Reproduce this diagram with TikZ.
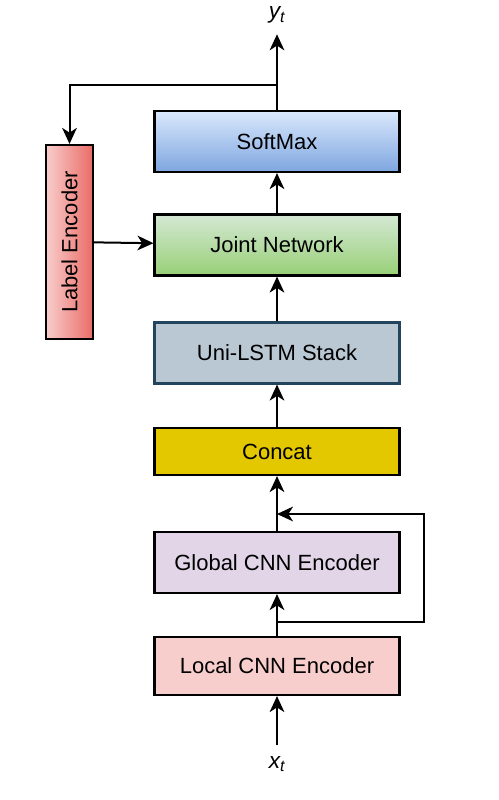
\documentclass[tikz,border=0pt]{standalone}
\usepackage{fontspec}
\setmainfont{Liberation Sans}
\usetikzlibrary{shapes.geometric, arrows.meta}
\tikzstyle{block} = [rectangle, draw=black, line width=1.6pt, minimum width=245*0.75pt, minimum height=61*0.75pt, text centered, font=\fontsize{16.5}{19}\selectfont]
\tikzstyle{softmax} = [block, top color={rgb,255:red,218;green,232;blue,252}, bottom color={rgb,255:red,126;green,166;blue,224}]
\tikzstyle{joint} = [block, top color={rgb,255:red,213;green,232;blue,212}, bottom color={rgb,255:red,151;green,208;blue,119}]
\tikzstyle{lstm} = [block, draw={rgb,255:red,35;green,68;blue,93}, fill={rgb,255:red,186;green,200;blue,211}]
\tikzstyle{concat} = [block, minimum height=47*0.75pt, fill={rgb,255:red,227;green,200;blue,0}]
\tikzstyle{globalenc} = [block, fill={rgb,255:red,225;green,213;blue,231}]
\tikzstyle{localenc} = [block, minimum height=58*0.75pt, fill={rgb,255:red,248;green,206;blue,204}]
\tikzstyle{labelenc} = [block, rotate=90, minimum width=194*0.75pt, minimum height=47*0.75pt, left color={rgb,255:red,248;green,206;blue,204}, right color={rgb,255:red,234;green,107;blue,102}]
\tikzstyle{io} = [inner sep=8pt, font=\fontsize{17}{20}\selectfont\itshape]
\tikzstyle{arrow} = [line width=1.5pt,-{Stealth[length=12pt,width=11pt,inset=3.5pt]}]

\begin{document}
\begin{tikzpicture}[x=0.75pt, y=0.75pt]
            \useasboundingbox (0,0) rectangle (499,-800);
            \node [io] at (277,-15) (yt) {y\textsubscript{t}};
            \node [softmax] at (277,-141.5) (softmax) {SoftMax};
            \node [joint] at (277,-245) (joint) {Joint Network};
            \node [lstm] at (277,-353) (lstm) {Uni-LSTM Stack};
            \node [concat] at (277,-451.5) (concat) {Concat};
            \node [globalenc] at (277,-562.5) (global) {Global CNN Encoder};
            \node [localenc] at (277,-666) (local) {Local CNN Encoder};
            \node [labelenc] at (69.5,-242) (label) {Label Encoder};
            \node [io] at (277,-764) (xt) {x\textsubscript{t}};
            \coordinate (fork) at (277,-85);
            \coordinate (split) at (277,-622);
            \coordinate (merge) at (277,-514);
            \draw [arrow] (xt) -- (local);
            \draw [arrow] (local) -- (global);
            \draw [arrow] (split) -- ++(147,0) |- (merge);
            \draw [arrow] (global) -- (concat);
            \draw [arrow] (concat) -- (lstm);
            \draw [arrow] (lstm) -- (joint);
            \draw [arrow] (label) -- (joint);
            \draw [arrow] (joint) -- (softmax);
            \draw [arrow] (softmax) -- (yt);
            \draw [arrow] (fork) -| (label);
            \end{tikzpicture}
\end{document}
